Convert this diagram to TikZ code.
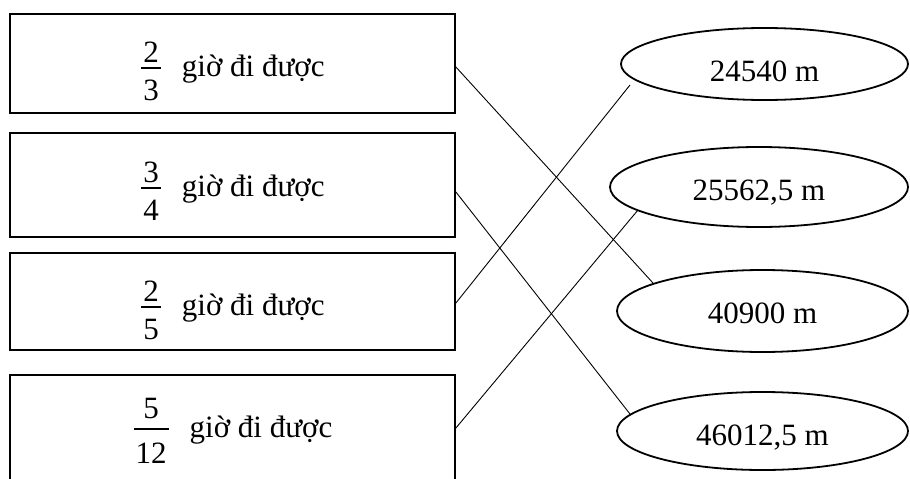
\documentclass[tikz,border=0pt]{standalone}
\usepackage{fontspec}
\setmainfont{Liberation Serif}
\usetikzlibrary{shapes.geometric}
\newlength\frw
% \fr{numerator raise}{denominator drop}{numerator}{denominator}
\newcommand\fr[4]{\sbox0{#3}\sbox2{#4}%
  \setlength\frw{\ifdim\wd0>\wd2 \wd0\else\wd2\fi}\addtolength\frw{4pt}%
  \rlap{\raisebox{#1}{\makebox[\frw]{\usebox0}}}%
  \rlap{\raisebox{7.5pt}{\rule{\frw}{1.2pt}}}%
  \raisebox{-#2}{\makebox[\frw]{\usebox2}}}
\begin{document}
\begin{tikzpicture}[x=1pt,y=-1pt,font=\fontsize{31}{37}\selectfont,
  box/.style={draw,line width=1.8pt,minimum width=445pt,inner sep=0pt},
  oval/.style={ellipse,draw,line width=1.8pt,inner sep=0pt,text depth=0pt},
  lbl/.style={anchor=base,inner sep=0pt},
  link/.style={line width=0.9pt}]
\useasboundingbox (0,0) rectangle (910,479);
\clip (0,0) rectangle (910,479);
% left boxes
\node[box,minimum height=99pt]  (b1) at (232.5,63.5) {};
\node[box,minimum height=104pt] (b2) at (232.5,185) {};
\node[box,minimum height=97pt]  (b3) at (232.5,301.5) {};
\node[box,minimum height=108pt] (b4) at (232.5,429) {};
\node[lbl] (t1) at (233,76)  {\fr{14pt}{24pt}{2}{3}\hspace{21pt}giờ đi được};
\node[lbl] (t2) at (233,196) {\fr{14pt}{24pt}{3}{4}\hspace{21pt}giờ đi được};
\node[lbl] (t3) at (233,315) {\fr{14pt}{24pt}{2}{5}\hspace{21pt}giờ đi được};
\node[lbl] (t4) at (233,437) {\fr{19pt}{26pt}{5}{12}\hspace{21pt}giờ đi được};
% right ellipses
\node[oval,minimum width=287pt,minimum height=72pt,text height=34pt] (e1) at (764.5,64) {24540 m};
\node[oval,minimum width=298pt,minimum height=80pt,text height=26pt] (e2) at (759,187) {25562,5 m};
\node[oval,minimum width=291pt,minimum height=82pt,text height=24pt] (e3) at (762.5,311) {40900 m};
\node[oval,minimum width=291pt,minimum height=78pt,text height=28pt] (e4) at (762.5,431) {46012,5 m};
% connectors
\draw[link] ([shift={(0,3.5)}]b1.east) -- ([shift={(-109.5,-28)}]e3.center);
\draw[link] ([shift={(0,7)}]b2.east) -- ([shift={(-132.5,-17)}]e4.center);
\draw[link] ([shift={(0,1.5)}]b3.east) -- ([shift={(-134.5,21)}]e1.center);
\draw[link] ([shift={(0,-1)}]b4.east) -- ([shift={(-121,23)}]e2.center);
\end{tikzpicture}
\end{document}
